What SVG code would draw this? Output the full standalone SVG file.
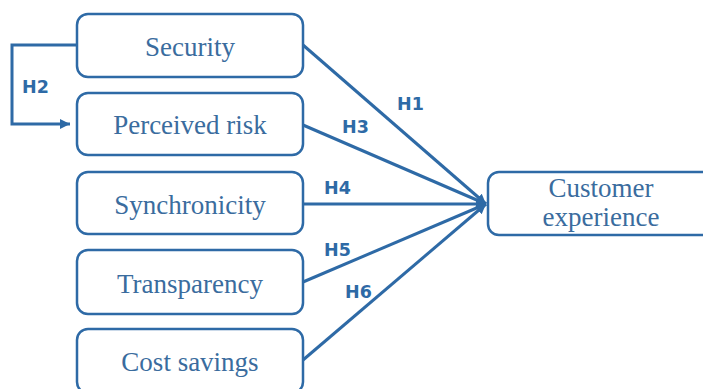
<svg xmlns="http://www.w3.org/2000/svg" width="703" height="389" viewBox="0 0 703 389">
  <defs>
    <style>
      .box { fill: #ffffff; stroke: #2e6aa6; stroke-width: 2.5; }
      .lbl { font-family: "Liberation Serif", "Times New Roman", serif; font-size: 27px; fill: #3a6c9e; text-anchor: middle; }
      .hyp { font-family: "DejaVu Sans", "Liberation Sans", sans-serif; font-weight: bold; font-size: 17.5px; fill: #2e6aa6; }
      .edge { fill: none; stroke: #2e6aa6; stroke-width: 3; }
    </style>
    <marker id="arrow" viewBox="0 0 10 10" refX="10" refY="5" markerWidth="10" markerHeight="10" markerUnits="userSpaceOnUse" orient="auto">
      <path d="M0,0 L10,5 L0,10 Z" fill="#2e6aa6"/>
    </marker>
  </defs>

  <rect width="703" height="389" fill="#ffffff"/>

  <!-- connectors -->
  <g id="connectors">
    <path class="edge" d="M77,45 H12 V124 H70" marker-end="url(#arrow)"/>
    <line class="edge" x1="303" y1="45" x2="486" y2="204" marker-end="url(#arrow)"/>
    <line class="edge" x1="303" y1="125" x2="486" y2="204" marker-end="url(#arrow)"/>
    <line class="edge" x1="303" y1="204" x2="486" y2="204" marker-end="url(#arrow)"/>
    <line class="edge" x1="303" y1="282" x2="486" y2="204" marker-end="url(#arrow)"/>
    <line class="edge" x1="303" y1="360" x2="486" y2="204" marker-end="url(#arrow)"/>
    <text class="hyp" x="22" y="93">H2</text>
    <text class="hyp" x="397" y="110">H1</text>
    <text class="hyp" x="342" y="133">H3</text>
    <text class="hyp" x="324" y="194">H4</text>
    <text class="hyp" x="324" y="256">H5</text>
    <text class="hyp" x="345" y="298">H6</text>
  </g>

  <g id="security">
    <rect class="box" x="77" y="14" width="226" height="63" rx="11"/>
    <text class="lbl" x="190" y="56">Security</text>
  </g>
  <g id="perceived-risk">
    <rect class="box" x="77" y="93" width="226" height="62" rx="11"/>
    <text class="lbl" x="190" y="134">Perceived risk</text>
  </g>
  <g id="synchronicity">
    <rect class="box" x="77" y="172" width="226" height="62" rx="11"/>
    <text class="lbl" x="190" y="214">Synchronicity</text>
  </g>
  <g id="transparency">
    <rect class="box" x="77" y="250" width="226" height="64" rx="11"/>
    <text class="lbl" x="190" y="293">Transparency</text>
  </g>
  <g id="cost-savings">
    <rect class="box" x="77" y="329" width="226" height="64" rx="11"/>
    <text class="lbl" x="190" y="371">Cost savings</text>
  </g>
  <g id="customer-experience">
    <rect class="box" x="488" y="172" width="226" height="63" rx="11"/>
    <text class="lbl" x="601" y="197">Customer</text>
    <text class="lbl" x="601" y="226">experience</text>
  </g>
</svg>
